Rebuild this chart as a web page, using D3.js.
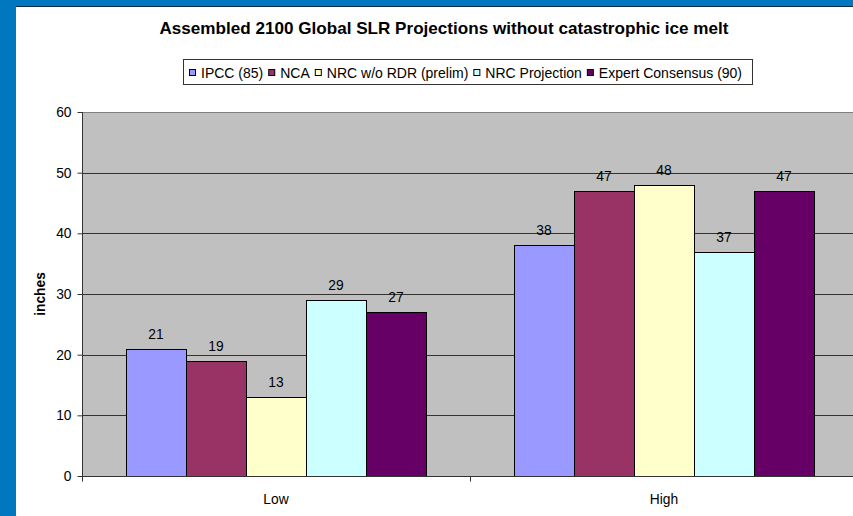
<!DOCTYPE html>
<html><head><meta charset="utf-8">
<script src="https://cdn.jsdelivr.net/npm/d3@7"></script>
<style>body{margin:0;background:#0077BE;} svg{display:block;font-family:"Liberation Sans",Arial,sans-serif;}</style>
</head><body>
<svg id="c" width="853" height="516"></svg>
<script>
const categories = ["Low", "High"];
const seriesNames = ["IPCC (85)", "NCA", "NRC w/o RDR (prelim)", "NRC Projection", "Expert Consensus (90)"];
const seriesColors = ["#9999FF", "#993366", "#FFFFCC", "#CCFFFF", "#660066"];
const lowValues = [21, 19, 13, 29, 27];
const highValues = [38, 47, 48, 37, 47];
const yTicks = [0, 10, 20, 30, 40, 50, 60];
const title = "Assembled 2100 Global SLR Projections without catastrophic ice melt";
const yTitle = "inches";

(function(){
const values = [lowValues, highValues];
const FS = "13.8px";
const svg = d3.select("#c");
svg.append("rect").attr("x",0).attr("y",0).attr("width",853).attr("height",516).attr("fill","#0077BE");
svg.append("line").attr("x1",16).attr("x2",853).attr("y1",6.5).attr("y2",6.5).attr("stroke","#0a2a45").attr("stroke-width",1);
svg.append("rect").attr("x",16).attr("y",7).attr("width",837).attr("height",509).attr("fill","#fff");

const pL = 82, pR = 858, pT = 112, pB = 476;
const x0 = d3.scaleBand().domain(categories).range([pL, pR]).paddingInner(0).paddingOuter(0);
const x1 = d3.scaleBand().domain(d3.range(seriesNames.length)).range([44, 344]);
const y = d3.scaleLinear().domain([0, 60]).range([pB, pT]);

svg.append("rect").attr("x",pL).attr("y",pT).attr("width",pR-pL).attr("height",pB-pT).attr("fill","#C0C0C0");

// gridlines
svg.append("g").selectAll("line").data(yTicks.filter(t=>t>0)).join("line")
  .attr("x1",pL).attr("x2",pR).attr("y1",d=>Math.round(y(d))+0.5).attr("y2",d=>Math.round(y(d))+0.5)
  .attr("stroke",d=>d===60?"#808080":"#333").attr("stroke-width",1);

// bars
const g = svg.append("g");
categories.forEach((c, ci) => {
  values[ci].forEach((v, si) => {
    const bx = x0(c) + x1(si);
    g.append("rect").attr("x",bx+0.5).attr("y",Math.round(y(v))+0.5)
      .attr("width",x1.bandwidth()).attr("height",Math.round(y(0))-Math.round(y(v)))
      .attr("fill",seriesColors[si]).attr("stroke","#000").attr("stroke-width",1);
    g.append("text").attr("x",bx + x1.bandwidth()/2).attr("y",y(v)-10)
      .attr("text-anchor","middle").attr("font-size",FS).attr("fill","#000").text(v);
  });
});

// y axis
const yAxis = d3.axisLeft(y).tickValues(yTicks).tickSize(5).tickPadding(6);
const ya = svg.append("g").attr("transform",`translate(${pL+0.5},0)`).call(yAxis);
ya.select(".domain").attr("stroke","#333").attr("d",`M0,${pT}V${pB}`);
ya.selectAll(".tick line").attr("stroke","#333").attr("x1",0).attr("x2",-5);
ya.selectAll(".tick text").attr("font-size",FS).attr("fill","#000").attr("font-family","Liberation Sans, Arial, sans-serif");

// x axis
const xAxis = d3.axisBottom(x0).tickSize(0).tickPadding(18);
const xa = svg.append("g").attr("transform",`translate(0,${pB+0.5})`).call(xAxis);
xa.select(".domain").attr("stroke","#333").attr("d",`M${pL},0H${pR}`);
xa.selectAll(".tick text").attr("font-size",FS).attr("fill","#000").attr("font-family","Liberation Sans, Arial, sans-serif");
xa.append("g").selectAll("line").data([pL, x0("High")]).join("line")
  .attr("x1",d=>d+0.5).attr("x2",d=>d+0.5).attr("y1",0).attr("y2",5).attr("stroke","#333");

// y title
svg.append("text").attr("transform",`translate(45,${(pT+pB)/2}) rotate(-90)`)
  .attr("text-anchor","middle").attr("font-size",FS).attr("font-weight","bold").text(yTitle);

// title
svg.append("text").attr("x",444).attr("y",34).attr("text-anchor","middle")
  .attr("font-size","17.1px").attr("font-weight","bold").text(title);

// legend
const lg = svg.append("g");
lg.append("rect").attr("x",183.5).attr("y",59.5).attr("width",569).attr("height",25)
  .attr("fill","#fff").attr("stroke","#333").attr("stroke-width",1);
let lx = 189;
seriesNames.forEach((n, i) => {
  lg.append("rect").attr("x",lx+0.5).attr("y",69.5).attr("width",6).attr("height",6)
    .attr("fill",seriesColors[i]).attr("stroke","#000");
  const t = lg.append("text").attr("x",lx+12).attr("y",77.5).attr("font-size","14px").text(n);
  lx += 12 + t.node().getComputedTextLength() + 5;
});
})();
</script>
</body></html>
